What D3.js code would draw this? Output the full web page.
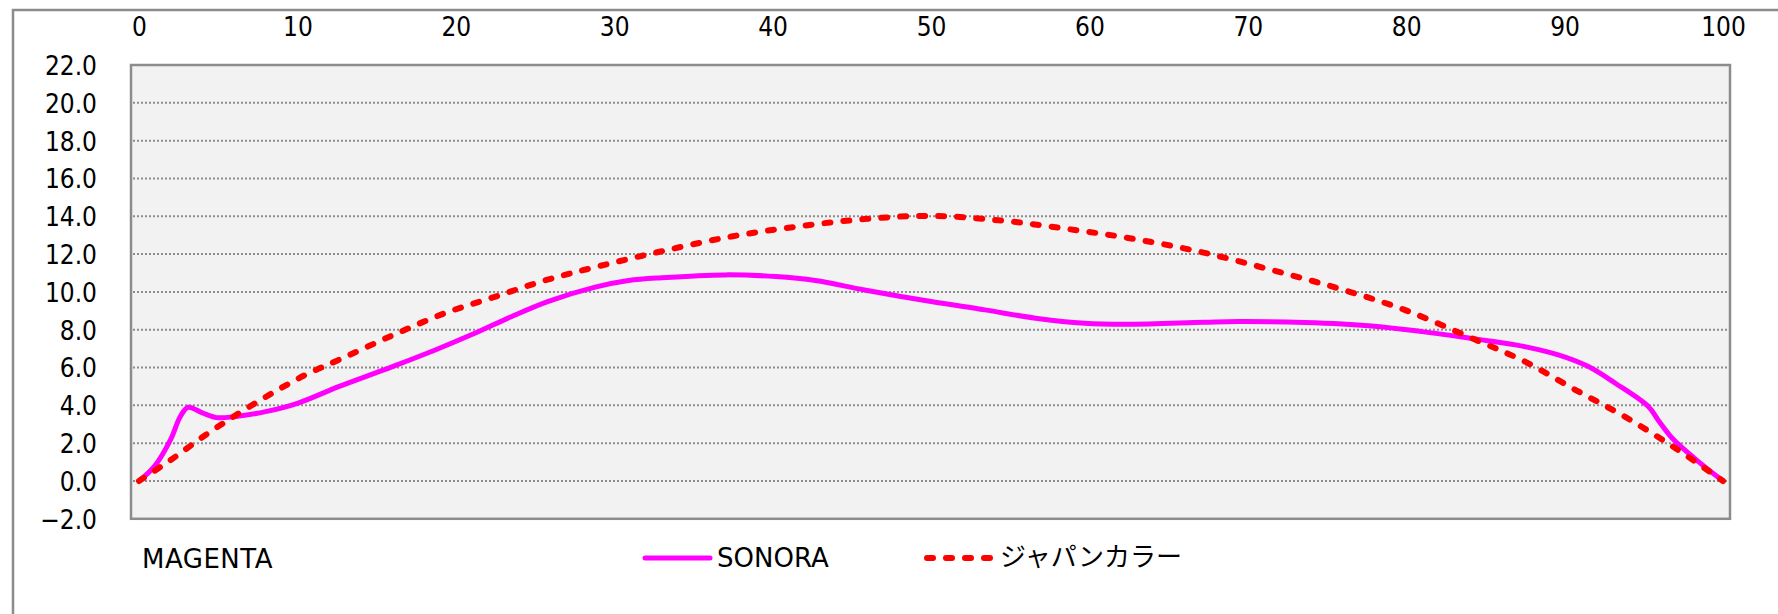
<!DOCTYPE html>
<html lang="ja">
<head>
  <meta charset="UTF-8">
  <title>SONORA / ジャパンカラー</title>
  <script src="https://d3js.org/d3.v7.min.js"></script>
  <style>
    body { margin: 0; background: #fff; }
    text {
      font-family: "DejaVu Sans Condensed", "DejaVu Sans", sans-serif;
      font-stretch: condensed;
      fill: #000;
    }
    .tick-label { font-size: 26px; }
    .legend-label {
      font-family: "DejaVu Sans", sans-serif;
      font-stretch: normal;
      font-size: 26px;
    }
    .legend-jp {
      font-family: "Noto Sans CJK JP", sans-serif;
      font-stretch: normal;
      font-size: 26px;
    }
    .grid line {
      stroke: #8c8c8c;
      stroke-width: 2;
      stroke-dasharray: 2, 2;
    }
  </style>
</head>
<body>
  <script>
    const width = 1778, height = 614;

    // x ticks along the top, y ticks on the left
    const xTicks = [0, 10, 20, 30, 40, 50, 60, 70, 80, 90, 100];
    const yTicks = [-2, 0, 2, 4, 6, 8, 10, 12, 14, 16, 18, 20, 22];

    // SONORA (magenta solid)
    const sonoraX = [0, 1, 2, 2.6, 3.1, 4, 4.9, 6, 8, 10, 12.6, 16, 18.7, 21.2, 23.5, 25.8, 28.8, 30.9, 33,
      37, 40.2, 42.7, 45.8, 50, 53.4, 56.6, 59.7, 62.5, 67.2, 69.4, 73.6, 77.8, 81, 84.2, 86.9, 89.6,
      91.5, 93.2, 95.3, 95.9, 96.8, 98.2, 100];
    const sonoraY = [0, 0.8, 2.2, 3.4, 3.9, 3.6, 3.35, 3.4, 3.67, 4.11, 4.99, 6.05, 6.93, 7.81, 8.69, 9.49, 10.25, 10.6, 10.75,
      10.9, 10.81, 10.6, 10.1, 9.49, 9.05, 8.61, 8.34, 8.29, 8.39, 8.43, 8.38, 8.2, 7.9, 7.53, 7.2, 6.67,
      6.05, 5.17, 3.93, 3.23, 2.26, 1.2, 0];

    // ジャパンカラー (red dashed)
    const japanX = [0, 2, 4.2, 6.3, 8.4, 10.5, 12.6, 16, 19.3, 22.5, 25.6, 28.8, 33, 37.4, 41.6, 45.8, 50,
      54.5, 58.7, 62.9, 67.2, 71.5, 75.7, 79.9, 84.2, 87.5, 90.7, 93.8, 97, 100];
    const japanY = [0, 1.11, 2.43, 3.58, 4.64, 5.61, 6.4, 7.7, 8.87, 9.75, 10.6, 11.31, 12.15, 12.93, 13.46, 13.85, 14.02,
      13.77, 13.32, 12.79, 12.08, 11.16, 10.19, 9.05, 7.53, 6.31, 4.81, 3.4, 1.73, 0];

    const svg = d3.select("body").append("svg")
      .attr("width", width)
      .attr("height", height);

    const x = d3.scaleLinear().domain([0, 100]).range([139, 1723]);
    const y = d3.scaleLinear().domain([-2, 22]).range([518.8, 65]);

    // outer chart frame (runs off the right and bottom)
    svg.append("rect")
      .attr("x", 13).attr("y", 10)
      .attr("width", width + 20).attr("height", height + 20)
      .attr("fill", "none")
      .attr("stroke", "#8c8c8c")
      .attr("stroke-width", 2.5);

    // plot area
    const plotLeft = 131, plotRight = 1730;
    svg.append("rect")
      .attr("x", plotLeft).attr("y", y(22))
      .attr("width", plotRight - plotLeft).attr("height", y(-2) - y(22))
      .attr("fill", "#f2f2f2");

    // dotted gridlines
    svg.append("g")
      .attr("class", "grid")
      .selectAll("line")
      .data(yTicks.filter(v => v > -2 && v < 22))
      .enter().append("line")
      .attr("x1", plotLeft + 2).attr("x2", plotRight - 2)
      .attr("y1", d => y(d)).attr("y2", d => y(d));

    svg.append("rect")
      .attr("x", plotLeft).attr("y", y(22))
      .attr("width", plotRight - plotLeft).attr("height", y(-2) - y(22))
      .attr("fill", "none")
      .attr("stroke", "#8c8c8c")
      .attr("stroke-width", 2.5);

    // top x axis
    const xAxis = svg.append("g")
      .attr("transform", "translate(0,36)")
      .call(d3.axisTop(x).tickValues(xTicks).tickSize(0).tickPadding(0).tickFormat(d3.format("d")));
    xAxis.select(".domain").remove();
    xAxis.selectAll("text").attr("class", "tick-label").attr("font-family", null).attr("font-size", null);

    // left y axis
    const yAxis = svg.append("g")
      .attr("transform", "translate(97,0)")
      .call(d3.axisLeft(y).tickValues(yTicks).tickSize(0).tickPadding(0).tickFormat(d3.format(".1f")));
    yAxis.select(".domain").remove();
    yAxis.selectAll("text").attr("class", "tick-label").attr("dy", "0.36em")
      .attr("font-family", null).attr("font-size", null);

    const line = d3.line()
      .x(d => x(d[0]))
      .y(d => y(d[1]))
      .curve(d3.curveCatmullRom.alpha(0.5));

    const sonora = sonoraX.map((v, i) => [v, sonoraY[i]]);
    const japan = japanX.map((v, i) => [v, japanY[i]]);

    svg.append("path")
      .datum(sonora)
      .attr("d", line)
      .attr("fill", "none")
      .attr("stroke", "#ff00ff")
      .attr("stroke-width", 5)
      .attr("stroke-linejoin", "round");

    svg.append("path")
      .datum(japan)
      .attr("d", line)
      .attr("fill", "none")
      .attr("stroke", "#ff0000")
      .attr("stroke-width", 6)
      .attr("stroke-linecap", "round")
      .attr("stroke-dasharray", "6,13");

    // legend
    const legend = svg.append("g");
    legend.append("text")
      .attr("class", "legend-label")
      .attr("x", 142).attr("y", 568)
      .attr("letter-spacing", 0.5)
      .text("MAGENTA");

    legend.append("line")
      .attr("x1", 645).attr("x2", 710)
      .attr("y1", 558).attr("y2", 558)
      .attr("stroke", "#ff00ff")
      .attr("stroke-width", 5)
      .attr("stroke-linecap", "round");
    legend.append("text")
      .attr("class", "legend-label")
      .attr("x", 717).attr("y", 567)
      .text("SONORA");

    legend.append("line")
      .attr("x1", 927).attr("x2", 993)
      .attr("y1", 558).attr("y2", 558)
      .attr("stroke", "#ff0000")
      .attr("stroke-width", 6)
      .attr("stroke-linecap", "round")
      .attr("stroke-dasharray", "6,13");
    legend.append("text")
      .attr("class", "legend-jp")
      .attr("x", 1000).attr("y", 566)
      .text("ジャパンカラー");
  </script>
</body>
</html>
